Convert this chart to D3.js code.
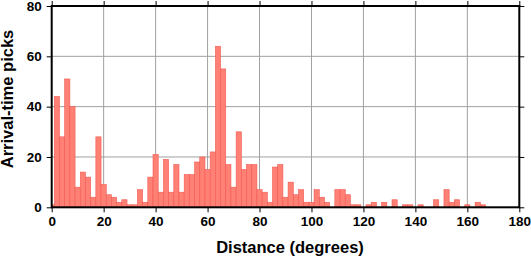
<!DOCTYPE html>
<html>
<head>
<meta charset="utf-8">
<script src="https://cdn.jsdelivr.net/npm/d3@7"></script>
<style>
	body { margin: 0; background: #fff; }
	svg { display: block; }
	text { font-family: "Liberation Sans", Arial, Helvetica, sans-serif; font-weight: bold; fill: #000; }
</style>
</head>
<body>
<div id="chart-area"></div>
<script>

// SVG Size
var width = 531,
	height = 258;

// plot box
var plotLeft = 51.7, plotRight = 519.3, plotTop = 6, plotBottom = 207.3;

// histogram: 2 degree bins centred on even degrees
var binCenters = d3.range(0, 180, 2);
var counts = [1, 44, 28, 51, 40, 8, 14, 12, 4, 28,
	9, 5, 4, 2, 3, 1, 1, 7, 2, 12,
	21, 6, 19, 6, 17, 6, 13, 13, 18, 20,
	15, 22, 64, 55, 17, 8, 30, 15, 17, 17,
	7, 6, 2, 16, 17, 4, 10, 5, 7, 2,
	2, 7, 4, 2, 0, 7, 7, 5, 1, 1,
	0, 1, 2, 0, 2, 0, 3, 0, 1, 1,
	0, 1, 0, 0, 3, 0, 7, 2, 3, 0,
	1, 0, 2, 1, 0, 0, 0, 0, 0, 0];
var binWidth = 2;

var xTicks = [0, 20, 40, 60, 80, 100, 120, 140, 160, 180];
var yTicks = [0, 20, 40, 60, 80];

var data = binCenters.map(function(c, i){
	return {center: c, count: counts[i]};
});

var svg = d3.select("#chart-area")
		.append("svg")
		.attr("width", width)
		.attr("height", height);

var xScale = d3.scaleLinear()
		.domain([0, 180])
		.range([plotLeft, plotRight]);

var yScale = d3.scaleLinear()
		.domain([0, 80])
		.range([plotBottom, plotTop]);

// grid lines
svg.append("g").selectAll("line")
		.data(xTicks.slice(1, -1))
		.enter()
		.append("line")
		.attr("x1", function(d){ return xScale(d); })
		.attr("x2", function(d){ return xScale(d); })
		.attr("y1", plotTop)
		.attr("y2", plotBottom)
		.attr("stroke", "#a0a0a0")
		.attr("stroke-width", 1);

svg.append("g").selectAll("line")
		.data(yTicks.slice(1, -1))
		.enter()
		.append("line")
		.attr("x1", plotLeft)
		.attr("x2", plotRight)
		.attr("y1", function(d){ return yScale(d); })
		.attr("y2", function(d){ return yScale(d); })
		.attr("stroke", "#a0a0a0")
		.attr("stroke-width", 1);

// bars
svg.append("g").selectAll("rect")
		.data(data.filter(function(d){ return d.count > 0; }))
		.enter()
		.append("rect")
		.attr("x", function(d){ return xScale(Math.max(0, d.center - binWidth / 2)); })
		.attr("width", function(d){
			return xScale(d.center + binWidth / 2) - xScale(Math.max(0, d.center - binWidth / 2));
		})
		.attr("y", function(d){ return yScale(d.count); })
		.attr("height", function(d){ return yScale(0) - yScale(d.count); })
		.attr("fill", "#ff8074")
		.attr("stroke", "#f25a52")
		.attr("stroke-width", 0.6);

// axes (ticks outward on all four sides)
var xAxis = d3.axisBottom(xScale).tickValues(xTicks).tickSize(5).tickPadding(4);
var yAxis = d3.axisLeft(yScale).tickValues(yTicks).tickSize(5).tickPadding(5);

var gx = svg.append("g")
		.attr("transform", "translate(0," + plotBottom + ")")
		.call(xAxis);
var gy = svg.append("g")
		.attr("transform", "translate(" + plotLeft + ",0)")
		.call(yAxis);
var gxt = svg.append("g")
		.attr("transform", "translate(0," + plotTop + ")")
		.call(d3.axisTop(xScale).tickValues(xTicks).tickSize(5).tickFormat(""));
var gyr = svg.append("g")
		.attr("transform", "translate(" + plotRight + ",0)")
		.call(d3.axisRight(yScale).tickValues(yTicks).tickSize(5).tickFormat(""));

[gx, gy, gxt, gyr].forEach(function(g){
	g.select(".domain").remove();
	g.selectAll(".tick line").attr("stroke", "#000").attr("stroke-width", 1);
	g.selectAll(".tick text").style("font-size", "13.5px").attr("fill", "#000");
});

// frame
svg.append("rect")
		.attr("x", plotLeft)
		.attr("y", plotTop)
		.attr("width", plotRight - plotLeft)
		.attr("height", plotBottom - plotTop)
		.attr("fill", "none")
		.attr("stroke", "#000")
		.attr("stroke-width", 2);

// axis names
svg.append("text").text("Distance (degrees)")
		.attr("x", 290)
		.attr("y", 253)
		.attr("text-anchor", "middle")
		.style("font-size", "16.5px");

svg.append("text").text("Arrival-time picks")
		.attr("transform", "translate(13," + 99 + ") rotate(-90)")
		.attr("text-anchor", "middle")
		.style("font-size", "16.5px");

</script>
</body>
</html>
